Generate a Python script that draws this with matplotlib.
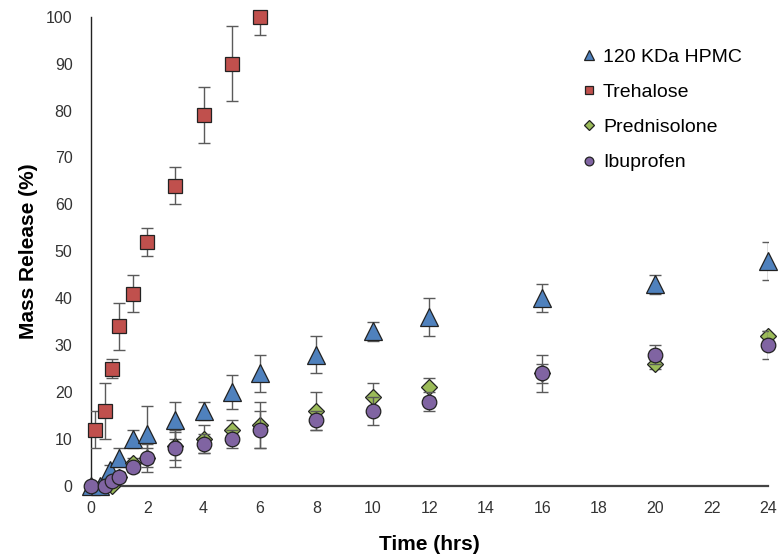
import numpy as np
import matplotlib
matplotlib.use("Agg")
import matplotlib.pyplot as plt

plt.rcParams['font.family'] = ['Liberation Sans', 'DejaVu Sans']

# Release data (time in hrs, mass release in %, error = +/- SD)
hpmc_t = [0, 0.33, 0.67, 1, 1.5, 2, 3, 4, 5, 6, 8, 10, 12, 16, 20, 24]
hpmc = [0, 0, 3.5, 6, 10, 11, 14, 16, 20, 24, 28, 33, 36, 40, 43, 48]
hpmc_err = [0, 0, 1, 2, 2, 6, 4, 2, 3.7, 4, 4, 2, 4, 3, 2, 4]

treh_t = [0.15, 0.5, 0.75, 1, 1.5, 2, 3, 4, 5, 6]
treh = [12, 16, 25, 34, 41, 52, 64, 79, 90, 100]
treh_err = [4, 6, 2, 5, 4, 3, 4, 6, 8, 4]

pred_t = [0.75, 1, 1.5, 2, 3, 4, 5, 6, 8, 10, 12, 16, 20, 24]
pred = [0, 2, 5, 6, 8.5, 10, 12, 13, 16, 19, 21, 24, 26, 32]
pred_err = [0, 1, 1, 2, 3, 3, 2, 5, 4, 3, 2, 4, 1, 1]

ibu_t = [0, 0.5, 0.75, 1, 1.5, 2, 3, 4, 5, 6, 8, 10, 12, 16, 20, 24]
ibu = [0, 0, 1, 2, 4, 6, 8, 9, 10, 12, 14, 16, 18, 24, 28, 30]
ibu_err = [0, 0, 0.5, 1, 1, 3, 4, 2, 2, 4, 2, 3, 2, 2, 2, 3]

series = [
    ("120 KDa HPMC", hpmc_t, hpmc, hpmc_err, "^", 13, "#4F81BD"),
    ("Trehalose", treh_t, treh, treh_err, "s", 10, "#C0504D"),
    ("Prednisolone", pred_t, pred, pred_err, "D", 8, "#9BBB59"),
    ("Ibuprofen", ibu_t, ibu, ibu_err, "o", 10.5, "#8064A2"),
]

fig = plt.figure(figsize=(7.83, 5.57), dpi=100)
ax = fig.add_axes([0.1158, 0.1275, 0.8652, 0.8425])

handles = []
for i, (name, t, y, e, mk, ms, col) in enumerate(series):
    ax.errorbar(t, y, yerr=e, fmt="none", ecolor="#5a5a5a", elinewidth=1,
                capsize=4, capthick=1, zorder=2 + 2 * i)
    h, = ax.plot(t, y, linestyle="none", marker=mk, markersize=ms,
                 markerfacecolor=col, markeredgecolor="#222222",
                 markeredgewidth=0.9, clip_on=False, zorder=3 + 2 * i,
                 label=name)
    handles.append(h)

ax.set_xlim(0, 24)
ax.set_ylim(0, 100)
ax.set_xticks(np.arange(0, 25, 2))
ax.set_yticks(np.arange(0, 101, 10))
ax.tick_params(length=0, labelsize=11.5, labelcolor="#333333")
ax.tick_params(axis="y", pad=13)
ax.tick_params(axis="x", pad=10.5)

for s in ["top", "right"]:
    ax.spines[s].set_visible(False)
ax.spines["left"].set_color("#222222")
ax.spines["left"].set_linewidth(1.0)
ax.spines["bottom"].set_color("#444444")
ax.spines["bottom"].set_linewidth(1.6)

ax.set_xlabel("Time (hrs)", fontsize=15, fontweight="bold", labelpad=14)
ax.set_ylabel("Mass Release (%)", fontsize=15, fontweight="bold", labelpad=6)

ax.legend(handles=handles, loc="upper left", bbox_to_anchor=(0.733, 0.927),
          bbox_transform=fig.transFigure, frameon=False, fontsize=14,
          markerscale=0.6, handlelength=0.8, handletextpad=0.3,
          labelspacing=0.9, borderaxespad=0)

fig.savefig("out.png", dpi=100)
